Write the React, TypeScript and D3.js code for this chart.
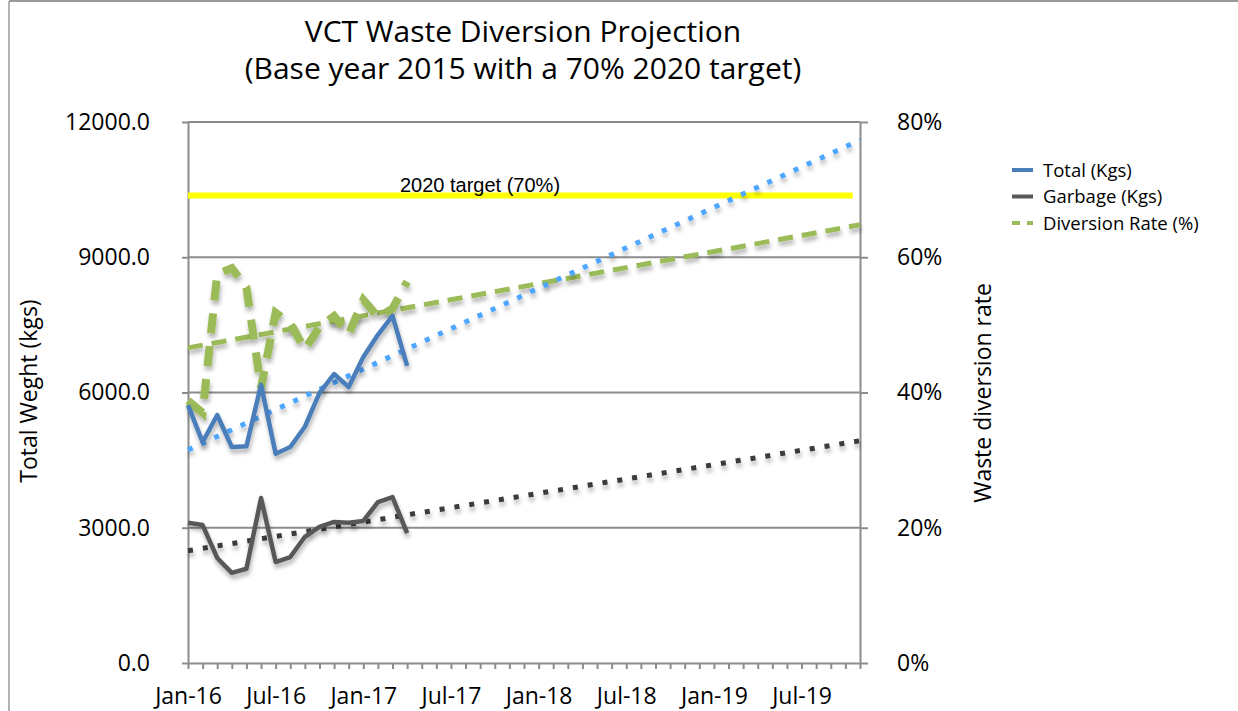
import * as d3 from "d3";
import { useEffect, useRef } from "react";

// categories: one per month, Jan-16 .. Nov-19
const months = d3.timeMonths(new Date(2016, 0, 1), new Date(2019, 11, 1));
const labelEvery = 6;

// monthly series (first 16 months)
const totalKgs = [5720, 4900, 5500, 4790, 4810, 6170, 4640, 4790, 5240, 5990, 6410, 6120, 6790, 7280, 7700, 6590];
const garbageKgs = [3110, 3060, 2330, 2000, 2090, 3660, 2240, 2350, 2800, 3020, 3130, 3110, 3150, 3570, 3680, 2880];
const diversionRate = [38.8, 37.0, 57.5, 58.4, 55.5, 40.7, 51.8, 50.2, 46.4, 49.7, 51.3, 48.6, 53.7, 51.2, 52.4, 56.4];

// linear trend lines: value at first and last category
const totalTrend = [4725, 11600];
const garbageTrend = [2490, 4930];
const diversionTrend = [46.6, 64.8];

// 2020 target line
const targetKgs = 10370;
const targetSpan = [0, 45.5];
const targetLabel = "2020 target (70%)";

const leftTicks = [0, 3000, 6000, 9000, 12000];
const rightTicks = [0, 20, 40, 60, 80];

const legendItems = [
  { name: "Total (Kgs)", color: "#4a7ebb", dash: null },
  { name: "Garbage (Kgs)", color: "#595959", dash: null },
  { name: "Diversion Rate (%)", color: "#9bbb59", dash: "8 7" },
];

const FONT = "'Open Sans', 'Noto Sans', sans-serif";
const GRID = "#8c8c8c";

const App = () => {
  const ref = useRef<SVGSVGElement>(null);

  useEffect(() => {
    const svg = d3.select(ref.current);
    svg.selectAll("*").remove();

    const width = 1238;
    const height = 711;
    const margin = { top: 122, right: 378, bottom: 48, left: 188 };
    const x0 = margin.left;
    const x1 = width - margin.right;
    const y0 = height - margin.bottom;
    const y1 = margin.top;

    const x = d3.scaleLinear().domain([0, months.length - 1]).range([x0, x1]);
    const yL = d3.scaleLinear().domain([0, 12000]).range([y0, y1]);
    const yR = d3.scaleLinear().domain([0, 80]).range([y0, y1]);
    const fmtMonth = d3.timeFormat("%b-%y");

    // shadow like Excel
    const defs = svg.append("defs");
    const f = defs.append("filter").attr("id", "shadow").attr("x", "-10%").attr("y", "-10%").attr("width", "130%").attr("height", "140%");
    f.append("feDropShadow").attr("dx", 1).attr("dy", 4).attr("stdDeviation", 2)
      .attr("flood-color", "#000").attr("flood-opacity", 0.3);

    // chart border
    svg.append("line").attr("x1", 9).attr("x2", width).attr("y1", 1).attr("y2", 1)
      .attr("stroke", "#9a9a9a").attr("stroke-width", 2);
    svg.append("line").attr("x1", 9).attr("x2", 9).attr("y1", 1).attr("y2", height)
      .attr("stroke", "#9a9a9a").attr("stroke-width", 1.5);

    // title
    const title = svg.append("text").attr("text-anchor", "middle")
      .style("font-family", FONT).style("font-size", "30px").attr("fill", "#000");
    title.append("tspan").attr("x", 523).attr("y", 42).text("VCT Waste Diversion Projection");
    title.append("tspan").attr("x", 523).attr("y", 79).text("(Base year 2015 with a 70% 2020 target)");

    // gridlines
    svg.append("g").selectAll("line")
      .data(leftTicks.filter(d => d > 0))
      .enter().append("line")
      .attr("x1", x0).attr("x2", x1)
      .attr("y1", d => yL(d)).attr("y2", d => yL(d))
      .attr("stroke", GRID).attr("stroke-width", 2);

    // left axis
    const left = svg.append("g").attr("transform", `translate(${x0},0)`)
      .call(d3.axisLeft(yL).tickValues(leftTicks).tickSize(6).tickSizeOuter(0).tickPadding(32).tickFormat(d3.format(".1f")));
    // right axis
    const right = svg.append("g").attr("transform", `translate(${x1},0)`)
      .call(d3.axisRight(yR).tickValues(rightTicks).tickSize(8).tickSizeOuter(0).tickPadding(29).tickFormat(d => `${d}%`));
    // bottom axis
    const bottom = svg.append("g").attr("transform", `translate(0,${y0})`)
      .call(d3.axisBottom(x).tickValues(d3.range(months.length)).tickSize(6).tickSizeOuter(0).tickPadding(19)
        .tickFormat(i => (i % labelEvery === 0 ? fmtMonth(months[i]) : "")));

    [left, right, bottom].forEach(a => {
      a.selectAll("path").attr("stroke", GRID).attr("stroke-width", 2);
      a.selectAll("line").attr("stroke", GRID).attr("stroke-width", 2);
      a.selectAll("text").style("font-family", FONT).style("font-size", "23px").attr("fill", "#000");
    });

    // axis titles
    svg.append("text").attr("transform", "translate(37,391) rotate(-90)")
      .attr("text-anchor", "middle").style("font-family", FONT).style("font-size", "23px")
      .text("Total Weght (kgs)");
    svg.append("text").attr("transform", "translate(991,393) rotate(-90)")
      .attr("text-anchor", "middle").style("font-family", FONT).style("font-size", "23px")
      .text("Waste diversion rate");

    // target line
    svg.append("line")
      .attr("x1", x(targetSpan[0])).attr("x2", x(targetSpan[1]))
      .attr("y1", yL(targetKgs)).attr("y2", yL(targetKgs))
      .attr("stroke", "#ffff00").attr("stroke-width", 6);
    svg.append("text").attr("x", 480).attr("y", yL(targetKgs) - 3).attr("text-anchor", "middle")
      .style("font-family", "'Liberation Sans', Arial, sans-serif").style("font-size", "20px")
      .text(targetLabel);

    const lineL = d3.line<number>().x((d, i) => x(i)).y(d => yL(d));
    const lineR = d3.line<number>().x((d, i) => x(i)).y(d => yR(d));
    const last = months.length - 1;

    // trend lines
    const trend = (vals: number[], scale: d3.ScaleLinear<number, number>, color: string, dash: string, w: number) =>
      svg.append("line")
        .attr("x1", x(0)).attr("x2", x(last))
        .attr("y1", scale(vals[0])).attr("y2", scale(vals[1]))
        .attr("stroke", color).attr("stroke-width", w).attr("stroke-dasharray", dash)
        .attr("filter", "url(#shadow)");

    trend(garbageTrend, yL, "#3a3a3a", "5 10", 5);
    trend(diversionTrend, yR, "#9bbb59", "15 9", 5);
    trend(totalTrend, yL, "#4da6ff", "5 9.5", 5);

    // series
    svg.append("path").datum(diversionRate).attr("d", lineR)
      .attr("fill", "none").attr("stroke", "#9bbb59").attr("stroke-width", 8)
      .attr("stroke-dasharray", "20 13").attr("filter", "url(#shadow)");
    svg.append("path").datum(garbageKgs).attr("d", lineL)
      .attr("fill", "none").attr("stroke", "#595959").attr("stroke-width", 4.5)
      .attr("stroke-linejoin", "round").attr("filter", "url(#shadow)");
    svg.append("path").datum(totalKgs).attr("d", lineL)
      .attr("fill", "none").attr("stroke", "#4a7ebb").attr("stroke-width", 4.5)
      .attr("stroke-linejoin", "round").attr("filter", "url(#shadow)");

    // legend
    const lg = svg.append("g").attr("transform", "translate(1012,170)");
    const item = lg.selectAll("g").data(legendItems).enter().append("g")
      .attr("transform", (d, i) => `translate(0,${i * 26.5})`);
    item.append("line").attr("x1", 0).attr("x2", 21).attr("y1", 0).attr("y2", 0)
      .attr("stroke", d => d.color).attr("stroke-width", 4)
      .attr("stroke-dasharray", d => d.dash);
    item.append("text").attr("x", 31).attr("y", 6.5)
      .style("font-family", FONT).style("font-size", "18.5px").text(d => d.name);
  }, []);

  return (
    <svg ref={ref} width={1238} height={711}
      style={{ position: "absolute", left: 0, top: 0, background: "#fff" }} />
  );
};

export default App;
